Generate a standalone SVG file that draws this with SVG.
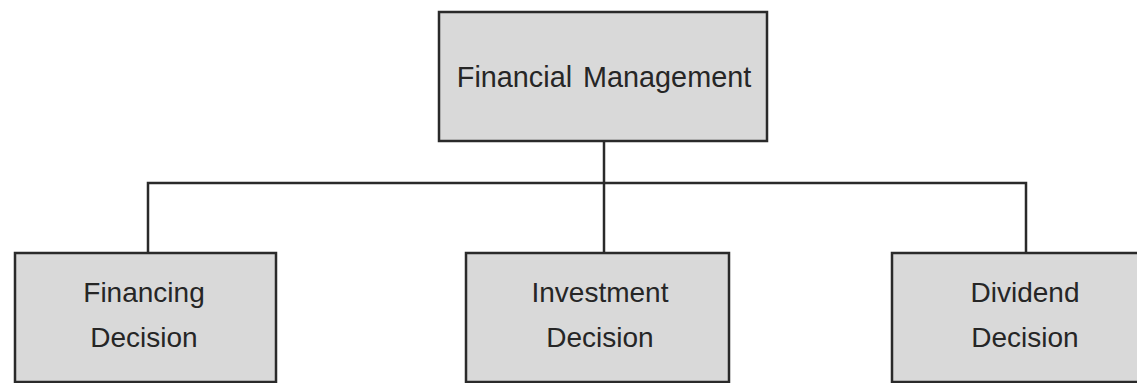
<svg xmlns="http://www.w3.org/2000/svg" width="1137" height="383" viewBox="0 0 1137 383">
<style>
.box{fill:#d9d9d9;stroke:#2a2a2a;stroke-width:2.5}
.lbl{font-family:"Liberation Sans",Arial,sans-serif;font-size:28px;fill:#262626;text-anchor:middle}
.con{fill:none;stroke:#2a2a2a;stroke-width:2.5}
</style>
<rect width="1137" height="383" fill="#ffffff"/>
<g id="connectors">
<path class="con" d="M604 141 V253"/>
<path class="con" d="M148 253 V183 H1026 V253"/>
</g>
<g id="node-fm">
<rect class="box" x="439" y="12" width="328" height="129"/>
<text class="lbl" x="604" y="87" style="font-size:28.8px;word-spacing:3px">Financial Management</text>
</g>
<g id="node-financing">
<rect class="box" x="15" y="253" width="261" height="129"/>
<text class="lbl" x="144" y="302">Financing</text>
<text class="lbl" x="144" y="347">Decision</text>
</g>
<g id="node-investment">
<rect class="box" x="466" y="253" width="263" height="129"/>
<text class="lbl" x="600" y="302">Investment</text>
<text class="lbl" x="600" y="347">Decision</text>
</g>
<g id="node-dividend">
<rect class="box" x="892" y="253" width="260" height="129"/>
<text class="lbl" x="1025" y="302">Dividend</text>
<text class="lbl" x="1025" y="347">Decision</text>
</g>
</svg>
